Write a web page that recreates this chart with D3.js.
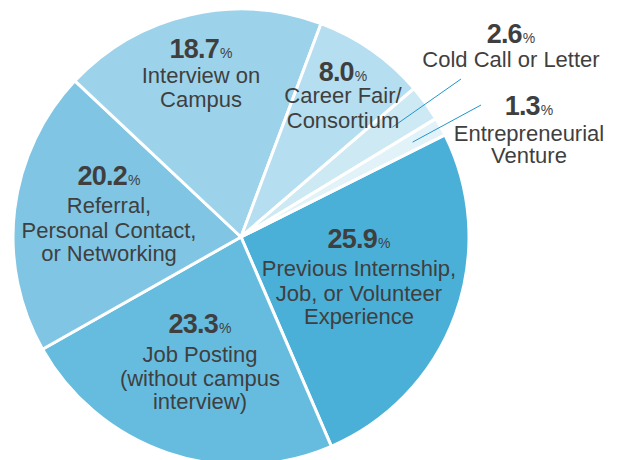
<!DOCTYPE html>
<html>
<head>
<meta charset="utf-8">
<script src="https://cdn.jsdelivr.net/npm/d3@7"></script>
<style>
html,body{margin:0;padding:0;background:#fff;}
svg{display:block;}
text{font-family:"Liberation Sans",Arial,Helvetica,sans-serif;fill:#3f3f3f;}
</style>
</head>
<body>
<svg id="chart" width="623" height="460"></svg>
<script>
// ---- data ----
const categories = [
  "Previous Internship, Job, or Volunteer Experience",
  "Job Posting (without campus interview)",
  "Referral, Personal Contact, or Networking",
  "Interview on Campus",
  "Career Fair/ Consortium",
  "Cold Call or Letter",
  "Entrepreneurial Venture"
];
const values = [25.9, 23.3, 20.2, 18.7, 8.0, 2.6, 1.3];
const labelLines = [
  ["Previous Internship,", "Job, or Volunteer", "Experience"],
  ["Job Posting", "(without campus", "interview)"],
  ["Referral,", "Personal Contact,", "or Networking"],
  ["Interview on", "Campus"],
  ["Career Fair/", "Consortium"],
  ["Cold Call or Letter"],
  ["Entrepreneurial", "Venture"]
];

// ---- styling / layout (kept separate from data) ----
const colors = ["#4bb0d8", "#66bcdf", "#80c6e4", "#9dd3ea", "#b5def0", "#cde9f4", "#e2f2f9"];
// label anchor: x center, number baseline, line baselines
const labelLayout = [
  {x: 359, num: 248, lines: [276, 301, 324]},
  {x: 200, num: 333, lines: [362, 386, 409]},
  {x: 109, num: 185, lines: [213, 238, 261]},
  {x: 201, num: 58,  lines: [83, 107]},
  {x: 343, num: 81,  lines: [103, 128]},
  {x: 511, num: 43,  lines: [67]},
  {x: 529, num: 115, lines: [141, 163]}
];
// leader lines for small slices (from label toward slice, radial fraction)
const leaders = [
  null, null, null, null, null,
  {from: [461, 79], r: 0.82},
  {from: [481, 105], r: 0.86}
];

const cx = 241, cy = 237, R = 228;
const startDeg = 63.4;

const svg = d3.select("#chart");
const g = svg.append("g").attr("transform", `translate(${cx},${cy})`);

const pie = d3.pie().sort(null).value(d => d)
  .startAngle(startDeg * Math.PI / 180)
  .endAngle(startDeg * Math.PI / 180 + 2 * Math.PI);
const arcs = pie(values);
const arc = d3.arc().innerRadius(0).outerRadius(R);

g.selectAll("path.slice").data(arcs).enter().append("path")
  .attr("class", "slice")
  .attr("d", arc)
  .attr("fill", (d, i) => colors[i])
  .attr("stroke", "#fff")
  .attr("stroke-width", 3)
  .attr("stroke-linejoin", "round");

// leader lines
arcs.forEach((a, i) => {
  const L = leaders[i];
  if (!L) return;
  const mid = (a.startAngle + a.endAngle) / 2;
  const rr = R * L.r;
  const tx = cx + Math.sin(mid) * rr;
  const ty = cy - Math.cos(mid) * rr;
  svg.append("line")
    .attr("x1", L.from[0]).attr("y1", L.from[1])
    .attr("x2", tx).attr("y2", ty)
    .attr("stroke", "#1f96cc").attr("stroke-width", 1);
});

// labels
arcs.forEach((a, i) => {
  const lay = labelLayout[i];
  const t = svg.append("text")
    .attr("x", lay.x).attr("y", lay.num)
    .attr("text-anchor", "middle");
  t.append("tspan")
    .attr("font-weight", "bold")
    .attr("font-size", 27)
    .attr("letter-spacing", -0.8)
    .text(d3.format(".1f")(values[i]));
  t.append("tspan")
    .attr("font-size", 14)
    .attr("dx", 1)
    .text("%");
  labelLines[i].forEach((line, j) => {
    svg.append("text")
      .attr("x", lay.x).attr("y", lay.lines[j])
      .attr("text-anchor", "middle")
      .attr("font-size", 22)
      .text(line);
  });
});
</script>
</body>
</html>
